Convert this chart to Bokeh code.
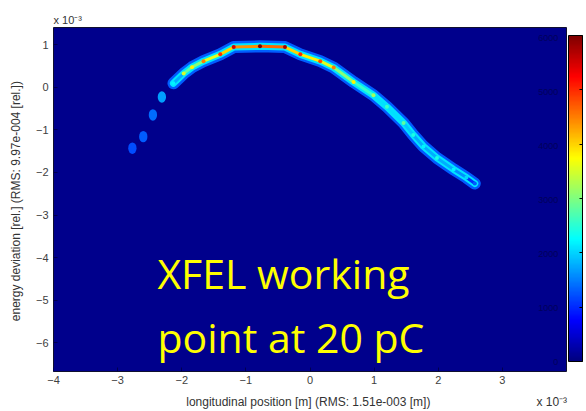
import numpy as np
from bokeh.plotting import figure
from bokeh.models import (Range1d, LinearColorMapper, ColorBar, FixedTicker, Label, Title,
                          LinearAxis, ColumnDataSource)
from bokeh.core.properties import value
from bokeh.embed import file_html
from bokeh.resources import INLINE

# ---------------- data (units of 1e-3) ----------------
# isolated blobs in the head of the bunch
blob_x = [-2.77, -2.60, -2.45, -2.31]
blob_y = [-1.43, -1.16, -0.65, -0.23]
blob_density = [1200, 1300, 1400, 1700]

# centre line of the main band and its peak density
band_x = [-2.13, -1.97, -1.84, -1.66, -1.40, -1.19, -0.78, -0.39, -0.15, 0.16, 0.37,
          0.68, 0.99, 1.20, 1.46, 1.61, 1.77, 1.98, 2.24, 2.44, 2.57]
band_y = [0.09, 0.32, 0.47, 0.61, 0.77, 0.94, 0.96, 0.94, 0.77, 0.61, 0.46,
          0.12, -0.19, -0.46, -0.84, -1.12, -1.39, -1.66, -1.93, -2.12, -2.26]
band_density = [2200, 3500, 3800, 4500, 5000, 5500, 6000, 5800, 5000, 4800, 4500,
                3800, 3200, 2600, 2800, 2400, 2200, 2400, 2200, 2000, 1300]

x_ticks = [-4, -3, -2, -1, 0, 1, 2, 3]
y_ticks = [-6, -5, -4, -3, -2, -1, 0, 1]
cb_ticks = [0, 1000, 2000, 3000, 4000, 5000, 6000]
x_label = "longitudinal position [m]  (RMS: 1.51e-003 [m])"
y_label = "energy deviation [rel.]  (RMS: 9.97e-004 [rel.])"
scale_label = "x 10⁻³"

# ---------------- jet palette ----------------
def jet(n=256):
    out = []
    for f in np.linspace(0, 1, n):
        r = np.clip(1.5 - abs(4 * f - 3), 0, 1)
        g = np.clip(1.5 - abs(4 * f - 2), 0, 1)
        b = np.clip(1.5 - abs(4 * f - 1), 0, 1)
        out.append("#%02x%02x%02x" % (int(r * 255), int(g * 255), int(b * 255)))
    return out

JET = jet()
mapper = LinearColorMapper(palette=JET, low=0, high=6000)

def jcol(v):
    i = int(round(np.clip(v / 6000, 0, 1) * 255))
    return JET[i]

# ---------------- figure ----------------
p = figure(width=586, height=411, output_backend="svg", toolbar_location=None,
           x_range=Range1d(-4, 4), y_range=Range1d(-6.67, 1.4),
           min_border_left=53, min_border_right=20, min_border_top=27, min_border_bottom=37)
p.background_fill_color = "#00008c"
p.border_fill_color = "white"
p.outline_line_color = "#101030"
p.grid.visible = False
p.extra_y_ranges = {"cb": Range1d(-184, 6202)}

font = "Liberation Sans"
for ax in (p.xaxis[0], p.yaxis[0]):
    ax.major_label_text_font = font
    ax.major_label_text_font_size = "11px"
    ax.major_label_text_color = "#404040"
    ax.axis_label_text_font = font
    ax.axis_label_text_font_size = "12px"
    ax.axis_label_text_font_style = "normal"
    ax.axis_label_text_color = "#333333"
    ax.axis_line_color = None
    ax.major_tick_in = 4
    ax.major_tick_out = 0
    ax.major_tick_line_color = "#000050"
    ax.minor_tick_line_color = None
p.xaxis.ticker = FixedTicker(ticks=x_ticks)
p.yaxis.ticker = FixedTicker(ticks=y_ticks)
p.yaxis.axis_label = y_label
p.xaxis.major_label_standoff = 4
p.yaxis.major_label_standoff = 5
p.yaxis.axis_label_standoff = 10

# second row under the x axis: axis title (centred) and the scale factor (right)
lab_axis = LinearAxis(ticker=FixedTicker(ticks=[0, 3.77]),
                      major_label_overrides={0: x_label, 3.77: scale_label})
lab_axis.axis_line_color = None
lab_axis.major_tick_line_color = None
lab_axis.minor_tick_line_color = None
lab_axis.major_label_standoff = 2
lab_axis.major_label_text_font = font
lab_axis.major_label_text_font_size = "12px"
lab_axis.major_label_text_color = "#333333"
p.add_layout(lab_axis, "below")

p.add_layout(Title(text=scale_label, align="left", text_font=font, text_font_size="11px",
                   text_font_style="normal", text_color="#333333", standoff=4), "above")

# ---------------- beam density ----------------
p.line(band_x, band_y, line_width=12, line_color=jcol(1300), line_join="round", line_cap="round")
p.line(band_x, band_y, line_width=7, line_color=jcol(2100), line_join="round", line_cap="round")
seg_xs = [[band_x[i], band_x[i + 1]] for i in range(len(band_x) - 1)]
seg_ys = [[band_y[i], band_y[i + 1]] for i in range(len(band_y) - 1)]
seg_c = [jcol(min(band_density[i], band_density[i + 1]) * 0.8) for i in range(len(band_x) - 1)]
p.multi_line(seg_xs, seg_ys, line_width=3, line_color=seg_c, line_cap="round")
src = ColumnDataSource(dict(x=band_x, y=band_y, d=band_density))
p.scatter("x", "y", source=src, size=4, line_color=None,
          fill_color={"field": "d", "transform": mapper})

bsrc = ColumnDataSource(dict(x=blob_x, y=blob_y, d=blob_density))
p.ellipse("x", "y", source=bsrc, width=0.13, height=0.27, line_color=None,
          fill_color={"field": "d", "transform": mapper})

# ---------------- colour bar ----------------
cb = ColorBar(color_mapper=mapper, ticker=FixedTicker(ticks=cb_ticks), width=14, height=326,
              padding=0, margin=0, location=(2, 10),
              major_label_text_font_size="1px", major_label_text_alpha=0,
              major_tick_line_color="black", major_tick_in=3, minor_tick_line_color=None,
              bar_line_color="black", background_fill_alpha=0, border_line_color=None)
p.add_layout(cb, "right")
p.text(x=[3.87] * len(cb_ticks), y=cb_ticks, text=[str(t) for t in cb_ticks], y_range_name="cb",
       text_align="right", text_baseline="middle", text_font=value(font),
       text_font_size="9px", text_color="#00005a")

# ---------------- annotation ----------------
p.add_layout(Label(x=-2.38, y=-4.36, text="XFEL working", text_font="Open Sans",
                   text_font_size="41px", text_color="#ffff00", text_baseline="alphabetic"))
p.add_layout(Label(x=-2.38, y=-5.86, text="point at 20 pC", text_font="Open Sans",
                   text_font_size="41px", text_color="#ffff00", text_baseline="alphabetic"))

open("out.html", "w").write(file_html(p, INLINE))
